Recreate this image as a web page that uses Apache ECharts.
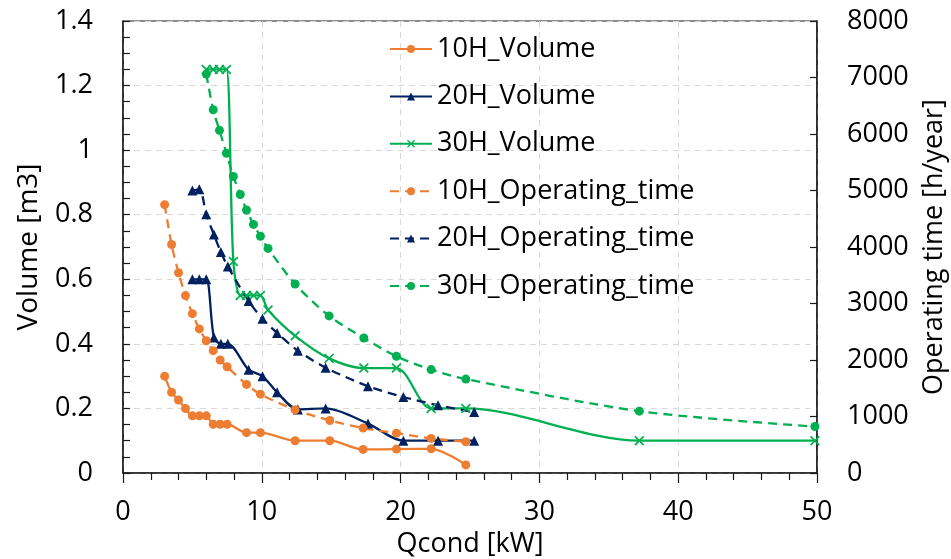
<!DOCTYPE html>
<html lang="en">
<head>
    <meta charset="UTF-8">
    <title>Volume and operating time vs Qcond</title>
    <script src="https://cdn.jsdelivr.net/npm/echarts@6.0.0/dist/echarts.min.js"></script>
    <style>
        html, body { margin: 0; padding: 0; background: #fff; overflow: hidden; }
        #chart-container { width: 951px; height: 559px; }
    </style>
</head>
<body>
<div id="chart-container"></div>

<script>
    // Qcond [kW] for each group
    var q10 = [3.0, 3.5, 4.0, 4.5, 5.0, 5.5, 6.0, 6.5, 7.0, 7.5, 8.9, 9.9, 12.4, 14.9, 17.3, 19.7, 22.2, 24.7];
    var q20 = [5.0, 5.5, 6.0, 6.55, 7.05, 7.55, 9.05, 10.05, 11.1, 12.6, 14.6, 17.65, 20.2, 22.7, 25.3];
    var q30 = [6.0, 6.5, 6.95, 7.45, 7.95, 8.45, 8.9, 9.4, 9.9, 10.45, 12.4, 14.85, 17.35, 19.7, 22.2, 24.7, 37.2, 49.85];

    // Volume [m3]
    var vol10 = [0.30, 0.25, 0.226, 0.20, 0.177, 0.177, 0.177, 0.151, 0.151, 0.151, 0.125, 0.125, 0.10, 0.10, 0.073, 0.074, 0.075, 0.025];
    var vol20 = [0.60, 0.60, 0.60, 0.42, 0.40, 0.40, 0.32, 0.30, 0.25, 0.197, 0.20, 0.153, 0.10, 0.10, 0.10];
    var vol30 = [1.25, 1.25, 1.25, 1.25, 0.655, 0.55, 0.55, 0.55, 0.55, 0.505, 0.425, 0.355, 0.325, 0.325, 0.20, 0.20, 0.10, 0.10];

    // Operating time [h/year]
    var op10 = [4750, 4045, 3545, 3140, 2820, 2550, 2340, 2165, 2000, 1880, 1568, 1395, 1120, 930, 795, 705, 612, 553];
    var op20 = [5000, 5020, 4580, 4220, 3910, 3655, 3045, 2730, 2480, 2165, 1865, 1535, 1345, 1200, 1078];
    var op30 = [7060, 6430, 6065, 5660, 5250, 4930, 4655, 4400, 4190, 3975, 3345, 2780, 2390, 2065, 1830, 1662, 1095, 822];

    var names = ["10H_Volume", "20H_Volume", "30H_Volume",
                 "10H_Operating_time", "20H_Operating_time", "30H_Operating_time"];

    var orange = "#ED7D31", navy = "#002060", green = "#00B050";
    var font = "Open Sans";
    var crossMark = "path://M0,1.2 L1.2,0 L5,3.8 L8.8,0 L10,1.2 L6.2,5 L10,8.8 L8.8,10 L5,6.2 L1.2,10 L0,8.8 L3.8,5 Z";

    function pairs(xs, ys) {
        return xs.map(function (x, i) { return [x, ys[i]]; });
    }

    function lineSeries(name, xs, ys, color, symbol, size, dashed, axis) {
        return {
            name: name,
            type: "line",
            yAxisIndex: axis,
            data: pairs(xs, ys),
            smooth: 0.3,
            symbol: symbol,
            symbolSize: size,
            showSymbol: true,
            itemStyle: { color: color },
            lineStyle: { color: color, width: 2.3, type: dashed ? [9, 6] : "solid" },
            z: 3
        };
    }

    var option = {
        animation: false,
        textStyle: { fontFamily: font },
        grid: {
            left: 123, right: 134, top: 21, bottom: 86,
            show: true, borderColor: "#1a1a1a", borderWidth: 1.2,
            containLabel: false,
            outerBoundsMode: "none"
        },
        legend: {
            orient: "vertical",
            left: 384,
            top: 30,
            itemWidth: 42,
            itemHeight: 10,
            itemGap: 19.4,
            textStyle: { fontFamily: font, fontSize: 27, color: "#000", lineHeight: 28 },
            data: names
        },
        xAxis: {
            type: "value",
            min: 0, max: 50, interval: 10,
            name: "Qcond [kW]",
            nameLocation: "middle",
            nameGap: 49,
            nameTextStyle: { fontFamily: font, fontSize: 27, color: "#000" },
            axisLine: { lineStyle: { color: "#1a1a1a", width: 1.5 } },
            axisTick: { show: true, inside: false, length: 10, lineStyle: { color: "#1a1a1a", width: 1.2 } },
            minorTick: { show: true, splitNumber: 5, length: 7, lineStyle: { color: "#1a1a1a", width: 1.2 } },
            axisLabel: { fontFamily: font, fontSize: 27, color: "#000", margin: 26 },
            splitLine: { show: true, lineStyle: { color: "#d9d9d9", type: [6, 5], width: 1 } }
        },
        yAxis: [
            {
                type: "value",
                min: 0, max: 1.4, interval: 0.2,
                name: "Volume [m3]",
                nameLocation: "middle",
                nameGap: 80,
                nameTextStyle: { fontFamily: font, fontSize: 28, color: "#000" },
                axisLine: { show: true, lineStyle: { color: "#1a1a1a", width: 1.5 } },
                axisTick: { show: true, inside: true, length: 7, lineStyle: { color: "#1a1a1a", width: 1.2 } },
                minorTick: { show: true, splitNumber: 4, length: 7, lineStyle: { color: "#1a1a1a", width: 1.2 } },
                axisLabel: { fontFamily: font, fontSize: 27, color: "#000", margin: 30 },
                splitLine: { show: true, lineStyle: { color: "#d9d9d9", type: [6, 5], width: 1 } }
            },
            {
                type: "value",
                position: "right",
                min: 0, max: 8000, interval: 1000,
                name: "Operating time [h/year]",
                nameLocation: "middle",
                nameGap: 104,
                nameRotate: 90,
                nameTextStyle: { fontFamily: font, fontSize: 27, color: "#000" },
                axisLine: { show: true, lineStyle: { color: "#1a1a1a", width: 1.5 } },
                axisTick: { show: true, inside: true, length: 7, lineStyle: { color: "#1a1a1a", width: 1.2 } },
                axisLabel: {
                    fontFamily: font, fontSize: 27, color: "#000", margin: 30,
                    formatter: function (v) { return String(v); }
                },
                splitLine: { show: false }
            }
        ],
        series: [
            lineSeries(names[0], q10, vol10, orange, "circle", 9, false, 0),
            lineSeries(names[1], q20, vol20, navy, "triangle", 10, false, 0),
            lineSeries(names[2], q30, vol30, green, crossMark, 10, false, 0),
            lineSeries(names[3], q10, op10, orange, "circle", 9, true, 1),
            lineSeries(names[4], q20, op20, navy, "triangle", 10, true, 1),
            lineSeries(names[5], q30, op30, green, "circle", 9, true, 1)
        ]
    };

    var chart = echarts.init(document.getElementById("chart-container"));
    chart.setOption(option);
</script>
</body>
</html>
